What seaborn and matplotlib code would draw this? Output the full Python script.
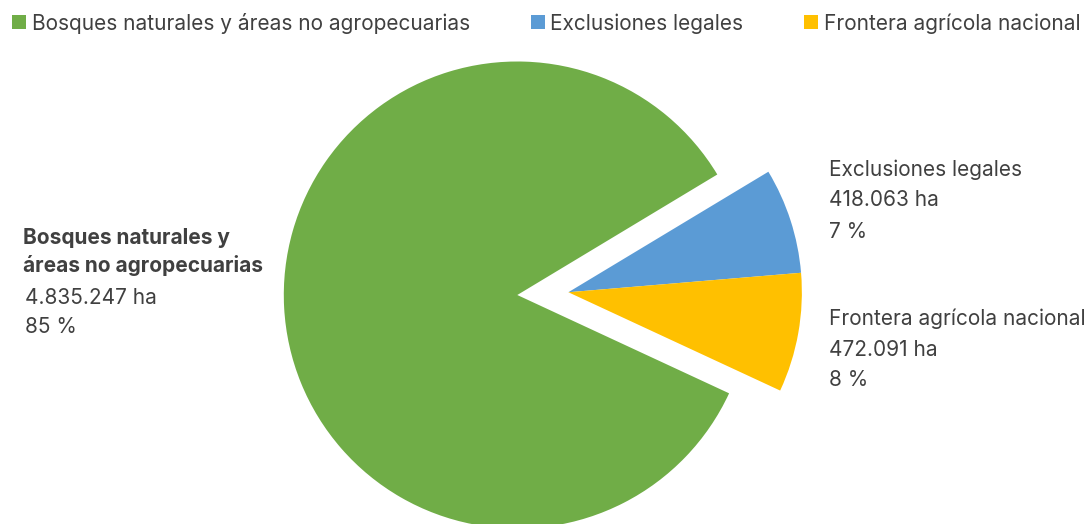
import matplotlib
matplotlib.use("Agg")
import matplotlib.pyplot as plt
import seaborn as sns
import numpy as np

# Superficie por categoría (hectáreas)
categorias = ["Bosques naturales y áreas no agropecuarias",
              "Exclusiones legales",
              "Frontera agrícola nacional"]
hectareas = [4835247, 418063, 472091]
porcentajes = [85, 7, 8]
etiquetas_ha = ["4.835.247 ha", "418.063 ha", "472.091 ha"]
colores = ["#70AD47", "#5B9BD5", "#FFC000"]

sns.set_style("white")
plt.rcParams["font.family"] = ["Inter", "DejaVu Sans"]
TEXT = "#404040"
FS = 15.0

W, H = 1092, 524
fig = plt.figure(figsize=(W / 100, H / 100), dpi=100)
ax = fig.add_axes([0, 0, 1, 1])

# pie geometry in pixels
cx, cy, R = 517.3, 295.0, 233.5
wedges, _ = ax.pie(hectareas, colors=sns.color_palette(colores), startangle=-24.9,
                   counterclock=False, radius=1.0, center=(0, 0),
                   wedgeprops=dict(linewidth=0))

# pull the two smaller slices out together along their common bisector
total = float(sum(hectareas))
a_end = -24.9
a_start = a_end + 360 * (hectareas[1] + hectareas[2]) / total
mid = np.deg2rad((a_start + a_end) / 2)
dist = 0.219
for w in wedges[1:]:
    w.set_center((dist * np.cos(mid), dist * np.sin(mid)))

ax.set_xlim(-cx / R, (W - cx) / R)
ax.set_ylim(-(H - cy) / R, cy / R)
ax.set_aspect("auto")
ax.axis("off")


def px_text(x, y, s, **kw):
    fig.text(x / W, 1 - y / H, s, color=TEXT, fontsize=FS, va="baseline", ha="left", **kw)


# left label (bold name, then value and share)
px_text(22.7, 244.3, "Bosques naturales y", fontweight="bold")
px_text(22.7, 271.7, "áreas no agropecuarias", fontweight="bold")
px_text(25.0, 304.3, etiquetas_ha[0])
px_text(25.0, 333.3, f"{porcentajes[0]} %")

# right labels
for (y0, name, ha_lbl, pct) in [(176.0, categorias[1], etiquetas_ha[1], porcentajes[1]),
                                (325.0, categorias[2], etiquetas_ha[2], porcentajes[2])]:
    px_text(829.3, y0, name)
    px_text(829.3, y0 + 30.5, ha_lbl)
    px_text(829.3, y0 + 61.5, f"{pct} %")

# legend along the top
leg = fig.legend(wedges, categorias, loc="upper left", ncol=3,
                 bbox_to_anchor=(12.3 / W, 1 - 12.5 / H), frameon=False,
                 fontsize=FS, handlelength=0.67, handleheight=0.67,
                 handletextpad=0.28, columnspacing=2.9, borderpad=0,
                 borderaxespad=0)
for t in leg.get_texts():
    t.set_color(TEXT)

fig.savefig("out.png", dpi=100)
